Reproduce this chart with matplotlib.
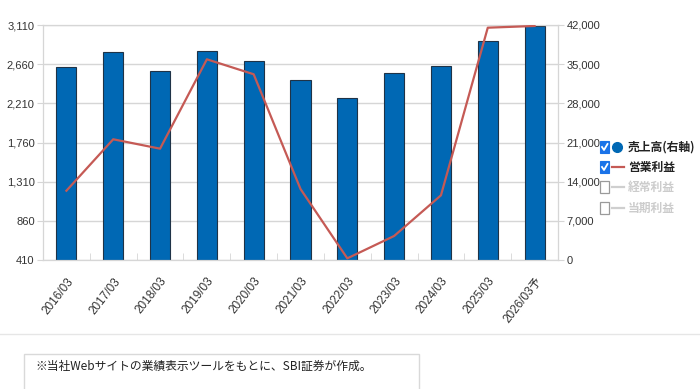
import matplotlib.pyplot as plt
import numpy as np
from matplotlib.patches import Rectangle
from matplotlib.lines import Line2D

plt.rcParams['font.family'] = ['Liberation Sans', 'Noto Sans CJK JP', 'DejaVu Sans']

# data
years = ["2016/03", "2017/03", "2018/03", "2019/03", "2020/03", "2021/03",
         "2022/03", "2023/03", "2024/03", "2025/03", "2026/03予"]
sales = [34440, 37120, 33830, 37350, 35510, 32220, 29010, 33480, 34670, 39190, 41880]
op_profit = [1206, 1797, 1689, 2716, 2544, 1226, 429, 686, 1153, 3079, 3099]

left_ticks = [410, 860, 1310, 1760, 2210, 2660, 3110]
right_ticks = [0, 7000, 14000, 21000, 28000, 35000, 42000]

legend_items = ["売上高(右軸)", "営業利益", "経常利益", "当期利益"]

BLUE = "#0068b4"
RED = "#c55a55"
GRID = "#d6d6d6"

fig = plt.figure(figsize=(7, 3.89), dpi=100)
ax = fig.add_axes([43 / 700, 1 - 260 / 389, (558 - 43) / 700, 235 / 389])
ax2 = ax.twinx()

x = np.arange(len(years))

# bars: sales on the right axis
ax.bar(x, sales, width=0.43, color=BLUE, edgecolor="#1f3347", linewidth=0.8, zorder=2)
ax.set_ylim(0, 42000)
ax.set_xlim(-0.5, len(years) - 0.5)
ax.grid(axis="y", color=GRID, linewidth=1, zorder=0)
ax.set_axisbelow(True)

ax.set_xticks(x)
ax.set_xticklabels(years, rotation=52, ha="right", rotation_mode="anchor", fontsize=8.5, color="#333333")
ax.set_xticks(np.arange(-0.5, len(years)), minor=True)
ax.tick_params(axis="x", which="major", length=0, pad=11)
ax.tick_params(axis="x", which="minor", direction="in", length=5, color=GRID)

# line: operating profit on the left axis
ax2.plot(x, op_profit, color=RED, linewidth=1.6, zorder=3)
ax2.set_ylim(410, 3110)

# swap sides: bars' scale on the right, line's scale on the left
ax.yaxis.tick_right()
ax.set_yticks(right_ticks)
ax.set_yticklabels([f"{v:,}" for v in right_ticks])
ax2.yaxis.tick_left()
ax2.set_yticks(left_ticks)
ax2.set_yticklabels([f"{v:,}" for v in left_ticks])
for a in (ax, ax2):
    a.tick_params(axis="y", length=4, color=GRID, labelsize=8, labelcolor="#333333", pad=2)
    for s in a.spines.values():
        s.set_color(GRID)

# legend with checkboxes, built by hand in pixel coordinates
def px(xp, yp):
    return xp / 700, 1 - yp / 389

rows_y = [147, 167, 187, 208]
for i, (label, yy) in enumerate(zip(legend_items, rows_y)):
    active = i < 2
    bx, by = px(600, yy + 6)
    if active:
        fig.patches.append(Rectangle((bx, by), 9 / 700, 12 / 389, transform=fig.transFigure,
                                     facecolor="#1a73e8", edgecolor="#1a73e8", linewidth=0.8))
        cx = [602 / 700, 604 / 700, 607.5 / 700]
        cy = [1 - (yy) / 389, 1 - (yy + 3) / 389, 1 - (yy - 3) / 389]
        fig.lines.append(Line2D(cx, cy, transform=fig.transFigure, color="white", linewidth=1.3))
    else:
        fig.patches.append(Rectangle((bx, by), 9 / 700, 12 / 389, transform=fig.transFigure,
                                     facecolor="white", edgecolor="#9a9a9a", linewidth=0.9))
    if i == 0:
        fig.lines.append(Line2D([617 / 700], [1 - yy / 389], transform=fig.transFigure,
                                marker="o", markersize=7, color=BLUE, linestyle="none"))
    else:
        c = RED if active else "#cfcfcf"
        x0, y0 = px(612, yy)
        x1, _ = px(624, yy)
        fig.lines.append(Line2D([x0, x1], [y0, y0], transform=fig.transFigure, color=c, linewidth=1.6))
    fig.text(*px(628, yy), label, fontsize=8.5, fontweight="bold",
             color="#222222" if active else "#cccccc", va="center", ha="left",
             family=["Noto Sans CJK JP", "DejaVu Sans"])

# separator and source note
fig.lines.append(Line2D([0, 1], [1 - 334 / 389] * 2, transform=fig.transFigure, color="#e6e6e6", linewidth=1))
fig.patches.append(Rectangle(px(24, 400), (419 - 24) / 700, 46 / 389, transform=fig.transFigure,
                             facecolor="white", edgecolor="#d9d9d9", linewidth=1))
fig.text(*px(35, 366), "※当社Webサイトの業績表示ツールをもとに、SBI証券が作成。", fontsize=8.5,
         color="#222222", va="center", ha="left", family=["Noto Sans CJK JP", "DejaVu Sans"])

fig.savefig("out.png", dpi=100)
